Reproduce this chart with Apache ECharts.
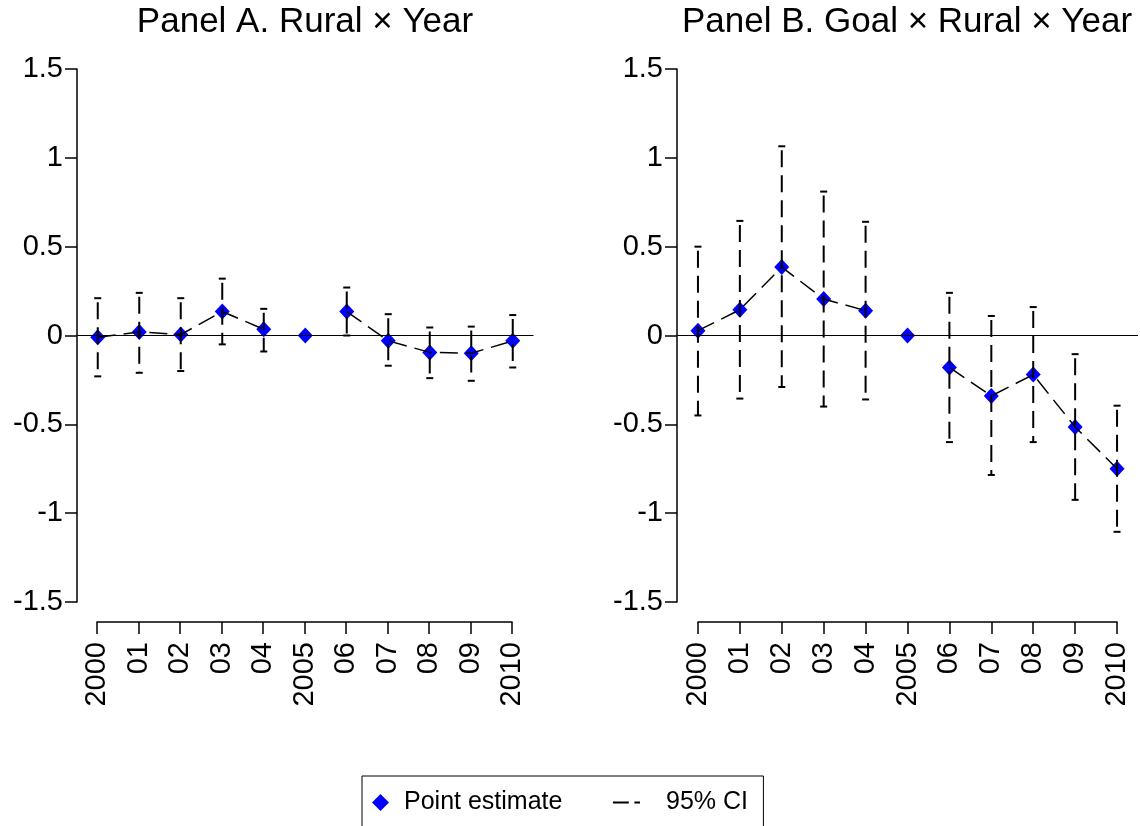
<!DOCTYPE html>
<html>
<head>
<meta charset="utf-8">
<script src="https://cdn.jsdelivr.net/npm/echarts@6/dist/echarts.min.js"></script>
<style>
  html, body { margin: 0; padding: 0; background: #fff; }
  #main { width: 1140px; height: 826px; }
</style>
</head>
<body>
<div id="main"></div>
<script>
// years on the x axis
var years = ['2000', '01', '02', '03', '04', '2005', '06', '07', '08', '09', '2010'];

// Panel A: Rural x Year
var estA = [-0.01, 0.02, 0.005, 0.135, 0.035, 0, 0.135, -0.03, -0.095, -0.10, -0.03];
var loA  = [-0.23, -0.21, -0.20, -0.05, -0.09, null, 0.0, -0.17, -0.24, -0.255, -0.18];
var hiA  = [0.21, 0.24, 0.21, 0.32, 0.15, null, 0.27, 0.12, 0.045, 0.05, 0.115];

// Panel B: Goal x Rural x Year
var estB = [0.027, 0.145, 0.385, 0.205, 0.14, 0, -0.18, -0.34, -0.22, -0.515, -0.75];
var loB  = [-0.45, -0.355, -0.29, -0.40, -0.36, null, -0.60, -0.785, -0.60, -0.925, -1.105];
var hiB  = [0.50, 0.645, 1.065, 0.81, 0.64, null, 0.24, 0.11, 0.16, -0.105, -0.395];

var yTicks = [-1.5, 1.5, 0.5];  // min, max, step
var baseYear = '2005';          // reference year, left out of the line

var FONT = '"Liberation Sans", Arial, sans-serif';

// line through the estimates, broken at the base year
function lineData(est) {
  return est.map(function (v, i) { return years[i] === baseYear ? null : v; });
}
function ciData(lo, hi) {
  var out = [];
  for (var i = 0; i < years.length; i++) {
    if (lo[i] != null && hi[i] != null) out.push([i, lo[i], hi[i]]);
  }
  return out;
}

function renderCI(params, api) {
  var x = api.value(0);
  var top = api.coord([x, api.value(2)]);
  var bot = api.coord([x, api.value(1)]);
  var w = 3.5;
  return {
    type: 'group',
    children: [
      { type: 'line', shape: { x1: top[0], y1: top[1], x2: bot[0], y2: bot[1] },
        style: { stroke: '#000', lineWidth: 2, lineDash: [17, 8], lineDashOffset: 21 } },
      { type: 'line', shape: { x1: top[0] - w, y1: top[1], x2: top[0] + w, y2: top[1] },
        style: { stroke: '#000', lineWidth: 2 } },
      { type: 'line', shape: { x1: bot[0] - w, y1: bot[1], x2: bot[0] + w, y2: bot[1] },
        style: { stroke: '#000', lineWidth: 2 } }
    ]
  };
}

var yAxisStyle = {
  type: 'value',
  min: yTicks[0], max: yTicks[1], interval: yTicks[2],
  axisLine: { show: true, lineStyle: { color: '#000', width: 1.5 } },
  axisTick: { show: true, length: 12, lineStyle: { color: '#000', width: 1.5 } },
  axisLabel: { fontSize: 29, color: '#000', fontFamily: FONT, margin: 14 },
  splitLine: { show: false }
};

function panelSeries(k, est, lo, hi) {
  var plotGrid = k * 2;
  return [
    {
      name: 'Point estimate', type: 'scatter',
      xAxisIndex: plotGrid, yAxisIndex: plotGrid,
      data: est, symbol: 'diamond', symbolSize: [15, 16],
      itemStyle: { color: '#0000ff', opacity: 1 }, z: 2,
      markLine: {
        silent: true, symbol: 'none', label: { show: false },
        lineStyle: { color: '#000', width: 1, type: 'solid' },
        data: [{ yAxis: 0 }]
      }
    },
    {
      name: 'line' + k, type: 'line',
      xAxisIndex: plotGrid, yAxisIndex: plotGrid,
      data: lineData(est), symbol: 'none', connectNulls: false,
      lineStyle: { color: '#000', width: 1.5, type: [18, 8] }, z: 3
    },
    {
      name: 'ci' + k, type: 'custom',
      xAxisIndex: plotGrid, yAxisIndex: plotGrid,
      data: ciData(lo, hi), renderItem: renderCI, z: 4
    }
  ];
}

var chart = echarts.init(document.getElementById('main'));

var series = panelSeries(0, estA, loA, hiA).concat(panelSeries(1, estB, loB, hiB));
// legend-only entry for the interval style
series.push({
  name: '95% CI', type: 'line', xAxisIndex: 0, yAxisIndex: 0, data: [],
  symbol: 'none', itemStyle: { color: '#000' }, lineStyle: { color: '#000', width: 1.5 }
});

function xCatAxis(gridIndex, visible) {
  return {
    type: 'category', gridIndex: gridIndex, data: years,
    boundaryGap: !visible,
    show: visible,
    axisLine: { show: visible, lineStyle: { color: '#000', width: 1.5 } },
    axisTick: { show: visible, length: 12, alignWithLabel: true, lineStyle: { color: '#000', width: 1.5 } },
    axisLabel: { show: visible, rotate: 90, fontSize: 29, color: '#000', fontFamily: FONT, margin: 20, interval: 0 },
    splitLine: { show: false }
  };
}

var legendText = { fontSize: 25, color: '#000', fontFamily: FONT };

chart.setOption({
  backgroundColor: '#fff',
  animation: false,
  title: [
    { text: 'Panel A. Rural × Year', left: 300, textAlign: 'center', top: 0,
      textStyle: { fontSize: 35, fontWeight: 'normal', color: '#000', fontFamily: FONT } },
    { text: 'Panel B. Goal × Rural × Year', left: 902, textAlign: 'center', top: 0,
      textStyle: { fontSize: 35, fontWeight: 'normal', color: '#000', fontFamily: FONT } }
  ],
  grid: [
    { left: 77, width: 456.5, top: 69, height: 533 },
    { left: 97, width: 415, top: 621, height: 1 },
    { left: 677, width: 461, top: 69, height: 533 },
    { left: 698, width: 419, top: 621, height: 1 }
  ],
  xAxis: [xCatAxis(0, false), xCatAxis(1, true), xCatAxis(2, false), xCatAxis(3, true)],
  yAxis: [
    Object.assign({ gridIndex: 0 }, yAxisStyle),
    { type: 'value', gridIndex: 1, show: false },
    Object.assign({ gridIndex: 2 }, yAxisStyle),
    { type: 'value', gridIndex: 3, show: false }
  ],
  legend: [
    {
      left: 362, top: 776,
      padding: [14, 201, 40, 10],
      borderColor: '#000', borderWidth: 1,
      itemWidth: 17, itemHeight: 17,
      selectedMode: false,
      textStyle: Object.assign({ padding: [0, 0, 0, 10] }, legendText),
      data: [{ name: 'Point estimate', icon: 'diamond', itemStyle: { color: '#0000ff' } }]
    },
    {
      left: 613, top: 776,
      padding: [14, 0, 0, 0],
      itemWidth: 27, itemHeight: 3,
      selectedMode: false,
      textStyle: Object.assign({ padding: [0, 0, 0, 21] }, legendText),
      data: [{ name: '95% CI', icon: 'path://M0,0H17V2H0Z M23,0H29V2H23Z', itemStyle: { color: '#000' } }]
    }
  ],
  series: series
});
</script>
</body>
</html>
